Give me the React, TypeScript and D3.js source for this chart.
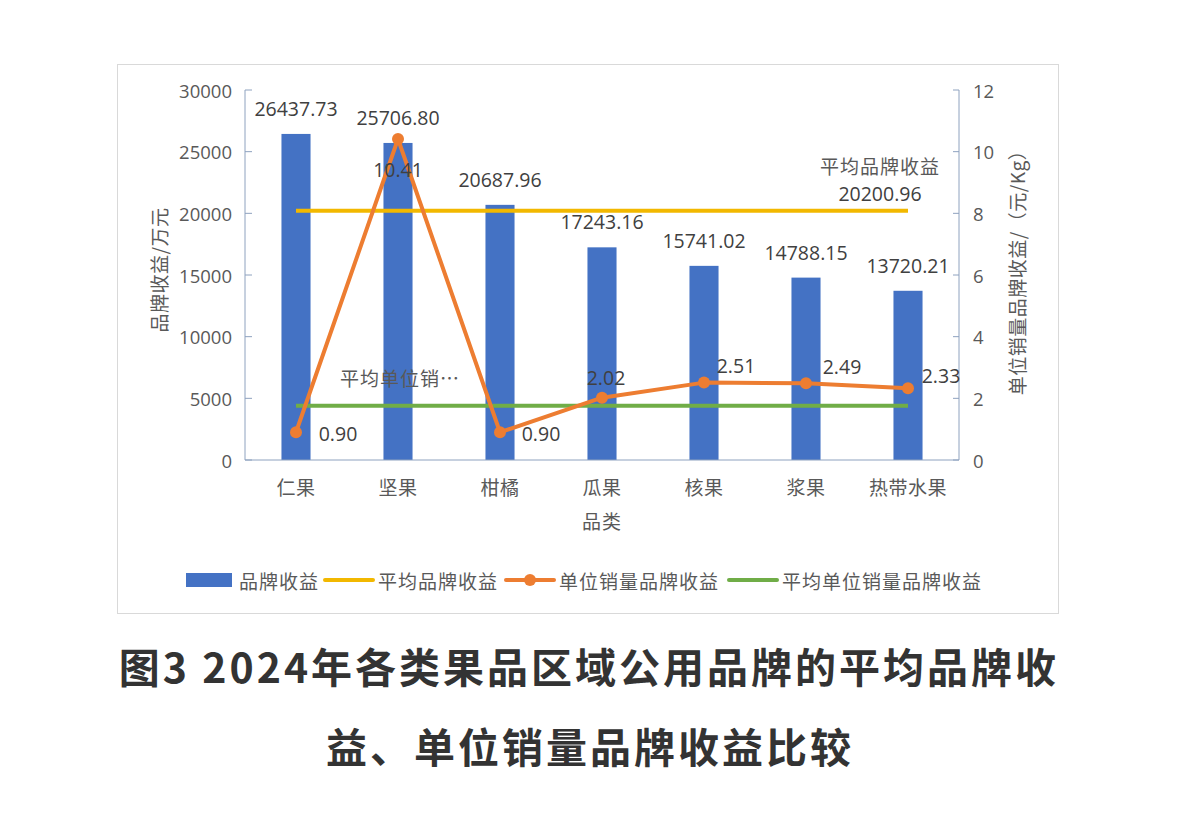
import React from 'react';
import * as d3 from 'd3';

// 品类与数据
const categories = ['仁果', '坚果', '柑橘', '瓜果', '核果', '浆果', '热带水果'];
const brandRevenue = [26437.73, 25706.80, 20687.96, 17243.16, 15741.02, 14788.15, 13720.21];
const unitRevenue = [0.90, 10.41, 0.90, 2.02, 2.51, 2.49, 2.33];
const avgBrandRevenue = 20200.96;
const avgUnitRevenue = 1.76;
const leftTicks = [0, 5000, 10000, 15000, 20000, 25000, 30000];
const rightTicks = [0, 2, 4, 6, 8, 10, 12];

// label offsets for the orange series (moved by hand in the source chart)
const unitLabelOffset: [number, number][] = [
  [42, 1], [0, 30], [41, 1], [4, -20], [32, -17], [36, -17], [33, -13],
];

const W = 1179;
const H = 814;
const plot = {left: 245, right: 959, top: 90, bottom: 460};

const BLUE = '#4472C4';
const GOLD = '#F2B800';
const ORANGE = '#ED7D31';
const GREEN = '#70AD47';
const AXIS = '#8EA2BF';
const GRAY = '#595959';
const DARK = '#404040';
const CJK = '"Noto Sans CJK SC", "Noto Sans", sans-serif';
const NUM = '"Open Sans", "Noto Sans", sans-serif';

const legendItems = [
  {label: '品牌收益', kind: 'bar', color: BLUE, x: 186},
  {label: '平均品牌收益', kind: 'line', color: GOLD, x: 325},
  {label: '单位销量品牌收益', kind: 'marker', color: ORANGE, x: 506},
  {label: '平均单位销量品牌收益', kind: 'line', color: GREEN, x: 729},
];

export default function App() {
  const x = d3.scaleBand<string>()
      .domain(categories)
      .range([plot.left, plot.right])
      .padding(0);
  const barW = x.bandwidth() * 0.285;
  const cx = (c: string) => (x(c) as number) + x.bandwidth() / 2;

  const yL = d3.scaleLinear().domain([0, 30000]).range([plot.bottom, plot.top]);
  const yR = d3.scaleLinear().domain([0, 12]).range([plot.bottom, plot.top]);

  const unitLine = d3.line<number>()
      .x((d, i) => cx(categories[i]))
      .y((d) => yR(d));

  const firstX = cx(categories[0]);
  const lastX = cx(categories[categories.length - 1]);

  return (
    <svg width={W} height={H} style={{position: 'absolute', left: 0, top: 0, background: '#fff'}}>
      <rect x={0} y={0} width={W} height={H} fill="#fff" />
      <rect x={117.5} y={64.5} width={941} height={549} fill="none" stroke="#d9d9d9" strokeWidth={1} />

      {/* bars */}
      {brandRevenue.map((v, i) => (
        <rect key={'b' + i}
          x={cx(categories[i]) - barW / 2}
          y={yL(v)}
          width={barW}
          height={plot.bottom - yL(v)}
          fill={BLUE} />
      ))}

      {/* axes */}
      <g stroke={AXIS} strokeWidth={1} fill="none">
        <line x1={plot.left} x2={plot.left} y1={plot.top} y2={plot.bottom} />
        <line x1={plot.right} x2={plot.right} y1={plot.top} y2={plot.bottom} />
        <line x1={plot.left} x2={plot.right} y1={plot.bottom} y2={plot.bottom} />
        {leftTicks.map((t) => (
          <line key={'lt' + t} x1={plot.left} x2={plot.left + 7} y1={yL(t)} y2={yL(t)} />
        ))}
        {rightTicks.map((t) => (
          <line key={'rt' + t} x1={plot.right - 6} x2={plot.right} y1={yR(t)} y2={yR(t)} />
        ))}
      </g>
      {leftTicks.map((t) => (
        <text key={'ll' + t} x={232} y={yL(t)} textAnchor="end" dominantBaseline="central"
          fontFamily={NUM} fontSize={18.5} fill={GRAY}>{t}</text>
      ))}
      {rightTicks.map((t) => (
        <text key={'rl' + t} x={973} y={yR(t)} textAnchor="start" dominantBaseline="central"
          fontFamily={NUM} fontSize={18.5} fill={GRAY}>{t}</text>
      ))}
      {categories.map((c) => (
        <text key={'c' + c} x={cx(c)} y={486} textAnchor="middle" dominantBaseline="central"
          fontFamily={CJK} fontSize={19} letterSpacing={0.5} fill={GRAY}>{c}</text>
      ))}
      <text x={(plot.left + plot.right) / 2} y={520} textAnchor="middle" dominantBaseline="central"
        fontFamily={CJK} fontSize={19} letterSpacing={1} fill={GRAY}>品类</text>
      <text transform={`translate(158,270) rotate(-90)`} textAnchor="middle" dominantBaseline="central"
        fontFamily={CJK} fontSize={19} letterSpacing={0.5} fill={GRAY}>品牌收益/万元</text>
      <text transform={`translate(1016,268) rotate(-90)`} textAnchor="middle" dominantBaseline="central"
        fontFamily={CJK} fontSize={19} letterSpacing={0.5} fill={GRAY}>单位销量品牌收益/（元/Kg）</text>

      {/* average lines */}
      <line x1={firstX} x2={lastX} y1={yL(avgBrandRevenue)} y2={yL(avgBrandRevenue)}
        stroke={GOLD} strokeWidth={4} />
      <line x1={firstX} x2={lastX} y1={yR(avgUnitRevenue)} y2={yR(avgUnitRevenue)}
        stroke={GREEN} strokeWidth={4} />

      {/* unit revenue series */}
      <path d={unitLine(unitRevenue) as string} fill="none" stroke={ORANGE} strokeWidth={4}
        strokeLinejoin="round" />
      {unitRevenue.map((v, i) => (
        <circle key={'p' + i} cx={cx(categories[i])} cy={yR(v)} r={6} fill={ORANGE} />
      ))}

      {/* data labels */}
      {brandRevenue.map((v, i) => (
        <text key={'bl' + i} x={cx(categories[i])} y={yL(v) - 18} textAnchor="middle"
          fontFamily={NUM} fontSize={19.5} fill={DARK}>{v.toFixed(2)}</text>
      ))}
      {unitRevenue.map((v, i) => (
        <text key={'ul' + i}
          x={cx(categories[i]) + unitLabelOffset[i][0]}
          y={yR(v) + unitLabelOffset[i][1]}
          textAnchor="middle" dominantBaseline="central"
          fontFamily={NUM} fontSize={19.5} fill={DARK}>{v.toFixed(2)}</text>
      ))}
      <text x={880} y={165} textAnchor="middle" dominantBaseline="central"
        fontFamily={CJK} fontSize={19} letterSpacing={1} fill={GRAY}>平均品牌收益</text>
      <text x={880} y={193} textAnchor="middle" dominantBaseline="central"
        fontFamily={NUM} fontSize={19.5} fill={DARK}>{avgBrandRevenue.toFixed(2)}</text>
      <text x={400} y={377} textAnchor="middle" dominantBaseline="central"
        fontFamily={CJK} fontSize={19} letterSpacing={1} fill={GRAY}>平均单位销…</text>

      {/* legend */}
      {legendItems.map((it) => (
        <g key={it.label} transform={`translate(${it.x},580)`}>
          {it.kind === 'bar' ? (
            <rect x={0} y={-7} width={46} height={14} fill={it.color} />
          ) : (
            <line x1={0} x2={48} y1={0} y2={0} stroke={it.color} strokeWidth={4} strokeLinecap="round" />
          )}
          {it.kind === 'marker' && <circle cx={24} cy={0} r={6} fill={it.color} />}
          <text x={53} y={0} dominantBaseline="central" fontFamily={CJK} fontSize={19}
            letterSpacing={1} fill={GRAY}>{it.label}</text>
        </g>
      ))}

      {/* caption */}
      <text x={589} y={665} textAnchor="middle" dominantBaseline="central" fontFamily={CJK}
        fontWeight="bold" fontSize={41} letterSpacing={3} fill="#333">图3 2024年各类果品区域公用品牌的平均品牌收</text>
      <text x={590} y={745} textAnchor="middle" dominantBaseline="central" fontFamily={CJK}
        fontWeight="bold" fontSize={41} letterSpacing={3} fill="#333">益、单位销量品牌收益比较</text>
    </svg>
  );
}
